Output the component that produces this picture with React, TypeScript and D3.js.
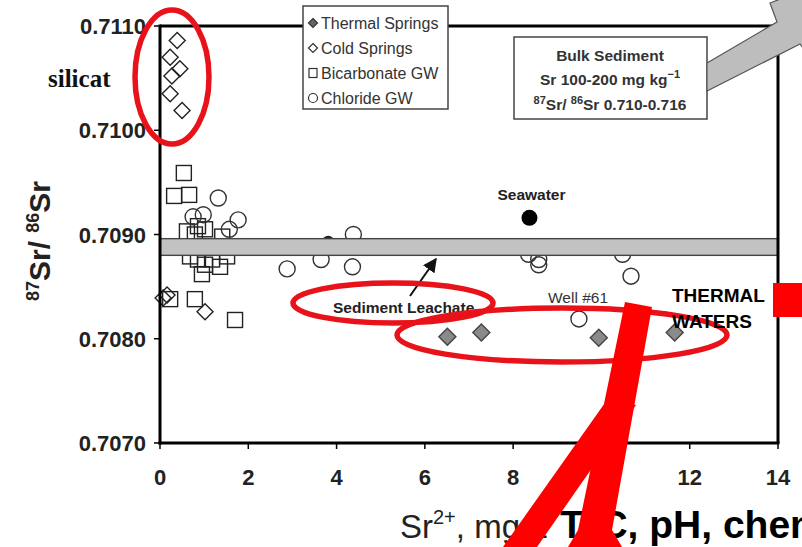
import React from "react";
import * as d3 from "d3";

// ---------- data ----------
const xTickValues = [0, 2, 4, 6, 8, 10, 12, 14];
const yTickValues = [0.707, 0.708, 0.709, 0.71, 0.711];

const thermalSprings = [
  { x: 6.51, y: 0.70802 },
  { x: 7.28, y: 0.70806 },
  { x: 9.94, y: 0.70801 },
  { x: 11.66, y: 0.70806 },
];

const coldSprings = [
  { x: 0.39, y: 0.71086 },
  { x: 0.23, y: 0.7107 },
  { x: 0.45, y: 0.71059 },
  { x: 0.27, y: 0.71052 },
  { x: 0.23, y: 0.71035 },
  { x: 0.5, y: 0.71019 },
  { x: 0.07, y: 0.70839 },
  { x: 0.16, y: 0.70842 },
  { x: 1.02, y: 0.70826 },
];

const bicarbonateGW = [
  { x: 0.54, y: 0.70959 },
  { x: 0.32, y: 0.70937 },
  { x: 0.66, y: 0.70938 },
  { x: 0.61, y: 0.70903 },
  { x: 0.86, y: 0.70908 },
  { x: 1.02, y: 0.70905 },
  { x: 1.41, y: 0.70898 },
  { x: 0.79, y: 0.709 },
  { x: 0.68, y: 0.70879 },
  { x: 0.86, y: 0.70876 },
  { x: 1.02, y: 0.70871 },
  { x: 0.95, y: 0.70862 },
  { x: 1.36, y: 0.70869 },
  { x: 1.52, y: 0.70879 },
  { x: 1.18, y: 0.70876 },
  { x: 0.23, y: 0.70838 },
  { x: 0.79, y: 0.70838 },
  { x: 1.7, y: 0.70818 },
];

const chlorideGW = [
  { x: 1.32, y: 0.70935 },
  { x: 0.75, y: 0.70917 },
  { x: 0.98, y: 0.70919 },
  { x: 1.77, y: 0.70914 },
  { x: 1.57, y: 0.70905 },
  { x: 2.88, y: 0.70867 },
  { x: 3.65, y: 0.70876 },
  { x: 4.38, y: 0.709 },
  { x: 4.36, y: 0.70869 },
  { x: 8.35, y: 0.70881 },
  { x: 8.58, y: 0.70876 },
  { x: 8.58, y: 0.70871 },
  { x: 10.48, y: 0.70881 },
  { x: 10.67, y: 0.7086 },
  { x: 9.49, y: 0.70819 },
];

const darkPoints = [{ x: 3.81, y: 0.70893 }];
const seawater = [{ x: 8.37, y: 0.70916 }];
const sedimentBand = [0.7088, 0.70896];

const legendItems = ["Thermal Springs", "Cold Springs", "Bicarbonate GW", "Chloride GW"];

// ---------- layout ----------
const W = 802;
const H = 547;
const FONT = "'Liberation Sans', Arial, Helvetica, sans-serif";

const x = d3.scaleLinear().domain([0, 14]).range([160, 778]);
const y = d3.scaleLinear().domain([0.707, 0.711]).range([443, 26]);
const fmt = d3.format(".4f");

const diamond = (cx: number, cy: number, h: number) =>
  `M${cx},${cy - h}L${cx + h},${cy}L${cx},${cy + h}L${cx - h},${cy}Z`;

export default function App() {
  const [x0, x1] = x.range();
  const [yB, yT] = y.range();
  return (
    <svg
      width={W}
      height={H}
      viewBox={`0 0 ${W} ${H}`}
      style={{ position: "absolute", left: 0, top: 0, background: "#fff" }}
      fontFamily={FONT}
    >
      <rect x={0} y={0} width={W} height={H} fill="#fff" />

      {/* points */}
      <g fill="none" stroke="#222" strokeWidth={1.4}>
        {coldSprings.map((d, i) => (
          <path key={"c" + i} d={diamond(x(d.x), y(d.y), 8)} />
        ))}
        {bicarbonateGW.map((d, i) => (
          <rect key={"b" + i} x={x(d.x) - 7.5} y={y(d.y) - 7.5} width={15} height={15} />
        ))}
        {chlorideGW.map((d, i) => (
          <circle key={"g" + i} cx={x(d.x)} cy={y(d.y)} r={8} stroke="#333" />
        ))}
      </g>
      {darkPoints.map((d, i) => (
        <circle key={"dk" + i} cx={x(d.x)} cy={y(d.y)} r={6} fill="#222" />
      ))}
      {thermalSprings.map((d, i) => (
        <path key={"t" + i} d={diamond(x(d.x), y(d.y), 8.5)} fill="#8a8a8a" stroke="#444" strokeWidth={1.4} />
      ))}

      {/* sediment leachate band */}
      <rect
        x={x0}
        y={y(sedimentBand[1])}
        width={x1 - x0}
        height={y(sedimentBand[0]) - y(sedimentBand[1])}
        fill="#c2c2c2"
        stroke="#444"
        strokeWidth={1.4}
      />

      {seawater.map((d, i) => (
        <circle key={"s" + i} cx={x(d.x)} cy={y(d.y)} r={8} fill="#000" />
      ))}

      {/* frame */}
      <g stroke="#000" strokeWidth={3} fill="none">
        <line x1={x0} x2={x1} y1={yT} y2={yT} />
        <line x1={x1} x2={x1} y1={yT} y2={yB} />
        <line x1={x0} x2={x0} y1={yT - 1.5} y2={yB + 1.5} />
        <line x1={x0 - 1.5} x2={x1 + 1.5} y1={yB} y2={yB} />
      </g>

      {/* y axis */}
      {yTickValues.map((v) => (
        <g key={"yt" + v}>
          <line x1={x0 - 6} x2={x0} y1={y(v)} y2={y(v)} stroke="#000" strokeWidth={1.5} />
          <text x={146} y={y(v) + 8} textAnchor="end" fontSize={22} fontWeight="bold" fill="#222">
            {fmt(v)}
          </text>
        </g>
      ))}
      {/* x axis */}
      {xTickValues.map((v) => (
        <g key={"xt" + v}>
          <line x1={x(v)} x2={x(v)} y1={yB} y2={yB + 6} stroke="#000" strokeWidth={1.5} />
          <text x={x(v)} y={485} textAnchor="middle" fontSize={22} fontWeight="bold" fill="#222">
            {v}
          </text>
        </g>
      ))}

      {/* y title */}
      <text
        transform="translate(50,241) rotate(-90)"
        textAnchor="middle"
        fontWeight="bold"
        fontSize={30}
        fill="#222"
      >
        <tspan fontSize={18} dy={-11}>87</tspan>
        <tspan dy={11}>Sr/ </tspan>
        <tspan fontSize={18} dy={-11}>86</tspan>
        <tspan dy={11}>Sr</tspan>
      </text>

      {/* x title */}
      <text x={400} y={538} fontSize={33} fill="#222">
        Sr<tspan fontSize={20} dy={-14}>2+</tspan>
        <tspan dy={14}>, mg/L</tspan>
      </text>
      <text x={560} y={538} fontSize={39} fontWeight="bold" fill="#000">
        T°C, pH, chem
      </text>

      {/* silicat */}
      <text x={48} y={87} fontFamily="'Liberation Serif', 'DejaVu Serif', serif" fontWeight="bold" fontSize={25} fill="#111">
        silicat
      </text>

      {/* legend */}
      <g>
        <rect x={303} y={6} width={145} height={103} fill="#fff" stroke="#444" strokeWidth={1.5} />
        {legendItems.map((label, i) => {
          const cy = 23 + i * 25;
          const mx = 313;
          let marker: React.ReactNode = null;
          if (i === 0) marker = <path d={diamond(mx, cy, 4.5)} fill="#666" stroke="#333" strokeWidth={1.2} />;
          if (i === 1) marker = <path d={diamond(mx, cy, 4.5)} fill="none" stroke="#333" strokeWidth={1.2} />;
          if (i === 2) marker = <rect x={mx - 4} y={cy - 4.5} width={8} height={9} fill="none" stroke="#333" strokeWidth={1.2} />;
          if (i === 3) marker = <circle cx={mx} cy={cy} r={4.5} fill="none" stroke="#333" strokeWidth={1.2} />;
          return (
            <g key={label}>
              {marker}
              <text x={321} y={cy + 5.5} fontSize={16} fill="#333">
                {label}
              </text>
            </g>
          );
        })}
      </g>

      {/* bulk sediment box */}
      <rect x={514} y={37} width={193} height={82} fill="#fff" stroke="#444" strokeWidth={1.5} />
      <g fontWeight="bold" fontSize={15.5} fill="#333" textAnchor="middle">
        <text x={610} y={61}>Bulk Sediment</text>
        <text x={610} y={85}>
          Sr  100-200 mg kg<tspan fontSize={11} dy={-7}>−1</tspan>
        </text>
        <text x={610} y={110}>
          <tspan fontSize={11} dy={-6}>87</tspan>
          <tspan dy={6}>Sr/ </tspan>
          <tspan fontSize={11} dy={-6}>86</tspan>
          <tspan dy={6}>Sr  0.710-0.716</tspan>
        </text>
      </g>
      {/* big gray arrow */}
      <polygon
        points="707,63 777,22 770,3 840,-24 815,64 800,44 707,91"
        fill="#bdbdbd"
        stroke="#555"
        strokeWidth={1.2}
      />

      {/* annotations */}
      <text x={x(seawater[0].x) + 2} y={200} textAnchor="middle" fontWeight="bold" fontSize={15.5} fill="#222">
        Seawater
      </text>
      <text x={548} y={303} fontSize={15.5} fill="#333">
        Well #61
      </text>
      <text x={333} y={313} fontSize={15.5} fontWeight="bold" fill="#222">
        Sediment Leachate
      </text>
      <defs>
        <marker id="ah" viewBox="0 0 10 10" refX="9" refY="5" markerWidth="7" markerHeight="7" orient="auto">
          <path d="M0,0L10,5L0,10Z" fill="#111" />
        </marker>
      </defs>
      <line x1={410} y1={296} x2={436} y2={259} stroke="#111" strokeWidth={2} markerEnd="url(#ah)" />

      {/* red ellipses */}
      <g fill="none" stroke="#e8121a" strokeWidth={5.5}>
        <ellipse cx={172} cy={77} rx={37} ry={67} />
        <ellipse cx={393} cy={303} rx={100} ry={20} />
        <ellipse cx={562} cy={335} rx={165} ry={27} />
      </g>

      {/* THERMAL WATERS */}
      <g fontWeight="bold" fontSize={19} fill="#000" fontFamily="'Liberation Sans', Arial, sans-serif">
        <text x={672} y={302}>THERMAL</text>
        <text x={672} y={328}>WATERS</text>
      </g>
      <rect x={773} y={283} width={30} height={34} fill="#ff0000" />

      {/* red slash marks */}
      <g fill="#ff0000">
        <polygon points="625,302 652,307 612,530 622,547 568,547 578,530" />
        <polygon points="607,400 636,405 537,547 503,547" />
      </g>
    </svg>
  );
}
